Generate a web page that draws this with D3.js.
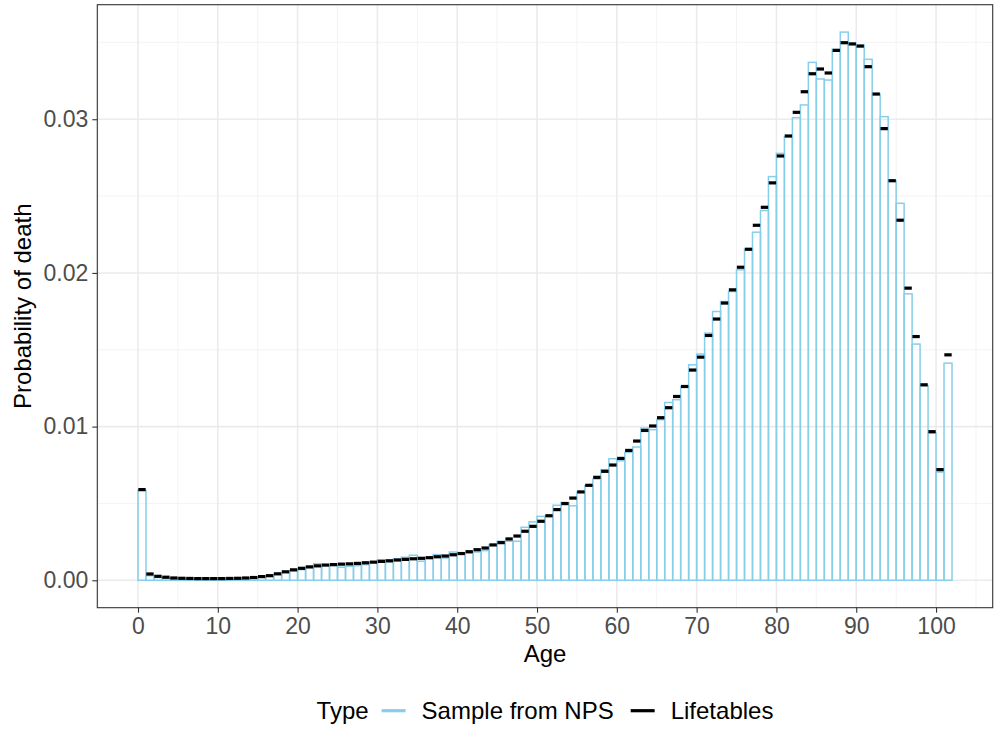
<!DOCTYPE html>
<html>
<head>
<meta charset="utf-8">
<script src="https://cdn.jsdelivr.net/npm/d3@7"></script>
<style>
  body { margin: 0; background: #fff; }
  text { font-family: "Liberation Sans", Arial, sans-serif; }
</style>
</head>
<body>
<div id="chart"></div>
<script>
// ages 0..101, each bar covers [age, age + 1]
const ages = d3.range(0, 102)

// sampled probabilities of death (blue outlined bars)
const npsValues = [
    0.00585, 0.00030, 0.00018, 0.00012, 0.00010, 0.00008, 0.00008, 0.00007, 0.00007, 0.00007,
    0.00007, 0.00008, 0.00010, 0.00012, 0.00015, 0.00022, 0.00032, 0.00045, 0.00059, 0.00063,
    0.00069, 0.00091, 0.00108, 0.00098, 0.00096, 0.00085, 0.00091, 0.00095, 0.00102, 0.00117,
    0.00134, 0.00119, 0.00139, 0.00150, 0.00163, 0.00124, 0.00150, 0.00167, 0.00145, 0.00184,
    0.00173, 0.00178, 0.00184, 0.00193, 0.00232, 0.00254, 0.00254, 0.00254, 0.00345, 0.00380,
    0.00416, 0.00416, 0.00488, 0.00507, 0.00485, 0.00575, 0.00616, 0.00659, 0.00720, 0.00791,
    0.00778, 0.00832, 0.00867, 0.00990, 0.00980, 0.01045, 0.01157, 0.01175, 0.01260, 0.01402,
    0.01472, 0.01608, 0.01749, 0.01814, 0.01879, 0.02020, 0.02154, 0.02265, 0.02406, 0.02627,
    0.02778, 0.02887, 0.03010, 0.03093, 0.03370, 0.03262, 0.03255, 0.03455, 0.03567, 0.03494,
    0.03483, 0.03390, 0.03164, 0.03017, 0.02600, 0.02453, 0.01864, 0.01537, 0.01266, 0.00958,
    0.00704, 0.01413
]

// lifetable probabilities of death (black dashes)
const lifeValues = [
    0.00590, 0.00041, 0.00026, 0.00020, 0.00015, 0.00013, 0.00012, 0.00011, 0.00011, 0.00011,
    0.00011, 0.00012, 0.00013, 0.00015, 0.00018, 0.00024, 0.00030, 0.00042, 0.00055, 0.00068,
    0.00078, 0.00087, 0.00094, 0.00099, 0.00102, 0.00105, 0.00107, 0.00110, 0.00114, 0.00118,
    0.00123, 0.00127, 0.00132, 0.00136, 0.00140, 0.00143, 0.00147, 0.00153, 0.00158, 0.00166,
    0.00174, 0.00186, 0.00199, 0.00210, 0.00230, 0.00245, 0.00269, 0.00288, 0.00319, 0.00351,
    0.00384, 0.00420, 0.00460, 0.00499, 0.00535, 0.00575, 0.00618, 0.00670, 0.00709, 0.00750,
    0.00793, 0.00845, 0.00906, 0.00975, 0.01004, 0.01058, 0.01123, 0.01196, 0.01261, 0.01368,
    0.01452, 0.01593, 0.01700, 0.01804, 0.01890, 0.02037, 0.02154, 0.02310, 0.02427, 0.02586,
    0.02761, 0.02891, 0.03045, 0.03179, 0.03296, 0.03327, 0.03301, 0.03448, 0.03498, 0.03490,
    0.03476, 0.03342, 0.03164, 0.02939, 0.02600, 0.02343, 0.01901, 0.01586, 0.01272, 0.00967,
    0.00720, 0.01467
]

// tick values
const xTicks = d3.range(0, 101, 10)
const xMinor = d3.range(-5, 106, 10)
const yTicks = [0, 0.01, 0.02, 0.03]
const yMinor = [0.005, 0.015, 0.025, 0.035]

// legend entries
const legendTitle = "Type"
const legendNames = ["Sample from NPS", "Lifetables"]
const legendColors = ["skyblue", "black"]

const width = 994
const height = 729
const panel = { left: 97.3, right: 992.7, top: 4.7, bottom: 607.7 }

const svg = d3.select('#chart')
    .append('svg')
    .attr('width', width)
    .attr('height', height)

svg.append('rect')
    .attr('width', width)
    .attr('height', height)
    .attr('fill', 'white')

// ggplot style 5% expansion on both sides
const xLo = 0, xHi = ages.length
const xPad = (xHi - xLo) * 0.05
const x = d3.scaleLinear()
    .domain([xLo - xPad, xHi + xPad])
    .range([panel.left, panel.right])

const yHi = d3.max([...npsValues, ...lifeValues])
const y = d3.scaleLinear()
    .domain([-yHi * 0.05, yHi * 1.05])
    .range([panel.bottom, panel.top])

// grid lines
const grid = svg.append('g')
grid.selectAll('.xminor')
    .data(xMinor.filter(d => x(d) > panel.left))
    .join('line')
    .attr('x1', d => x(d)).attr('x2', d => x(d))
    .attr('y1', panel.top).attr('y2', panel.bottom)
    .attr('stroke', '#f2f2f2').attr('stroke-width', 0.9)
grid.selectAll('.yminor')
    .data(yMinor)
    .join('line')
    .attr('y1', d => y(d)).attr('y2', d => y(d))
    .attr('x1', panel.left).attr('x2', panel.right)
    .attr('stroke', '#f2f2f2').attr('stroke-width', 0.9)
grid.selectAll('.xmajor')
    .data(xTicks)
    .join('line')
    .attr('x1', d => x(d)).attr('x2', d => x(d))
    .attr('y1', panel.top).attr('y2', panel.bottom)
    .attr('stroke', '#ebebeb').attr('stroke-width', 1.6)
grid.selectAll('.ymajor')
    .data(yTicks)
    .join('line')
    .attr('y1', d => y(d)).attr('y2', d => y(d))
    .attr('x1', panel.left).attr('x2', panel.right)
    .attr('stroke', '#ebebeb').attr('stroke-width', 1.6)

// outlined bars for the NPS sample
svg.append('g')
    .selectAll('rect')
    .data(ages)
    .join('rect')
    .attr('x', d => x(d))
    .attr('width', d => x(d + 1) - x(d))
    .attr('y', (d, i) => y(npsValues[i]))
    .attr('height', (d, i) => y(0) - y(npsValues[i]))
    .attr('fill', 'none')
    .attr('stroke', 'skyblue')
    .attr('stroke-width', 1.5)

// short dashes for the lifetables
svg.append('g')
    .selectAll('line')
    .data(ages)
    .join('line')
    .attr('x1', d => x(d) + 0.3)
    .attr('x2', d => x(d + 1) - 0.3)
    .attr('y1', (d, i) => y(lifeValues[i]))
    .attr('y2', (d, i) => y(lifeValues[i]))
    .attr('stroke', 'black')
    .attr('stroke-width', 3.2)

// panel border
svg.append('rect')
    .attr('x', panel.left)
    .attr('y', panel.top)
    .attr('width', panel.right - panel.left)
    .attr('height', panel.bottom - panel.top)
    .attr('fill', 'none')
    .attr('stroke', '#333333')
    .attr('stroke-width', 1.1)

// axes
const xAxis = svg.append('g')
    .attr('transform', `translate(0,${panel.bottom})`)
    .call(d3.axisBottom(x).tickValues(xTicks).tickSize(5).tickPadding(5).tickFormat(d3.format('d')))
const yAxis = svg.append('g')
    .attr('transform', `translate(${panel.left},0)`)
    .call(d3.axisLeft(y).tickValues(yTicks).tickSize(5).tickPadding(4).tickFormat(d3.format('.2f')))

;[xAxis, yAxis].forEach(ax => {
    ax.select('.domain').remove()
    ax.selectAll('.tick line').attr('stroke', '#333333').attr('stroke-width', 1.1)
    ax.selectAll('.tick text')
        .attr('fill', '#4d4d4d')
        .style('font-size', '23px')
        .style('font-family', '"Liberation Sans", Arial, sans-serif')
})

// axis titles
svg.append('text')
    .attr('x', (panel.left + panel.right) / 2)
    .attr('y', 662)
    .attr('text-anchor', 'middle')
    .style('font-size', '24px')
    .text('Age')

svg.append('text')
    .attr('transform', `translate(31,${(panel.top + panel.bottom) / 2}) rotate(-90)`)
    .attr('text-anchor', 'middle')
    .style('font-size', '24px')
    .text('Probability of death')

// legend, laid out left to right and then centred under the panel
const legend = svg.append('g')
let cursor = 0
legend.append('text')
    .attr('x', cursor)
    .attr('y', 719)
    .style('font-size', '24px')
    .text(legendTitle)
cursor += legend.select('text').node().getComputedTextLength() + 13

legendNames.forEach((name, i) => {
    legend.append('line')
        .attr('x1', cursor).attr('x2', cursor + 24)
        .attr('y1', 710.7).attr('y2', 710.7)
        .attr('stroke', legendColors[i])
        .attr('stroke-width', 3.2)
    cursor += 24 + 16
    const t = legend.append('text')
        .attr('x', cursor)
        .attr('y', 719)
        .style('font-size', '24px')
        .text(name)
    cursor += t.node().getComputedTextLength() + 17
})
cursor -= 17
legend.attr('transform', `translate(${(panel.left + panel.right) / 2 - cursor / 2},0)`)
</script>
</body>
</html>
